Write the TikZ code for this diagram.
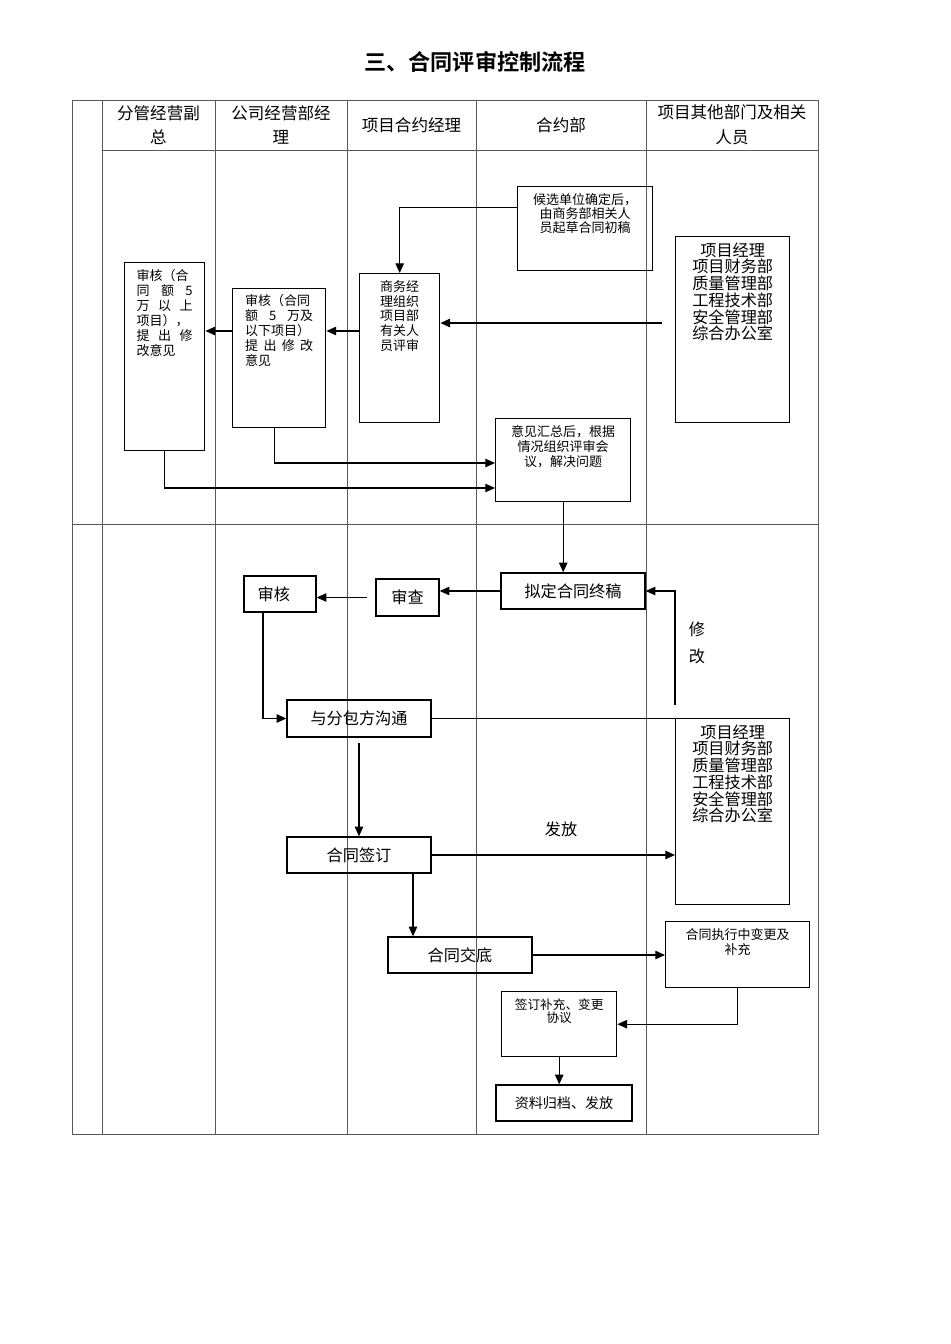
\documentclass[tikz,border=0pt]{standalone}
\usepackage{fontspec}
\setmainfont{Noto Sans CJK SC}[BoldFont={Noto Sans CJK SC Bold}]
\usepackage{tikz}
\usetikzlibrary{positioning, arrows.meta, calc}

% box with text at the top: width, height, top pad (px), text
\newcommand{\topbox}[4]{\parbox[c][\dimexpr0.02cm*#2\relax][t]{\dimexpr0.02cm*#1\relax}{\centering\vspace*{\dimexpr0.02cm*#3\relax}#4}}
\newcommand{\sfont}{\fontsize{7.4}{8.5}\selectfont}
\newcommand{\mfont}{\fontsize{9.2}{9.5}\selectfont}

\begin{document}
\begin{tikzpicture}[
        x=0.02cm, y=-0.02cm,
        >={Triangle[length=5.5pt,width=4.8pt]},
        grid/.style={draw=black!65, line width=0.5pt},
        box/.style={draw, line width=0.8pt, inner sep=0pt},
        midbox/.style={box, font=\mfont},
        conn/.style={->, line width=0.6pt},
        head/.style={font=\fontsize{9.4}{14}\selectfont, align=center}
    ]
    \useasboundingbox (0,0) rectangle (950,1344);

    % ==========================================
    % Title and table
    % ==========================================
    \node[font=\fontsize{12.6}{14}\selectfont\bfseries] (title) at (475,62) {三、合同评审控制流程};

    \draw[grid] (72,100) rectangle (818,1134);
    \draw[grid] (102,100) -- (102,1134);
    \draw[grid] (215,100) -- (215,1134);
    \draw[grid] (347,100) -- (347,1134);
    \draw[grid] (476,100) -- (476,1134);
    \draw[grid] (646,100) -- (646,1134);
    \draw[grid] (102,150) -- (818,150);
    \draw[grid] (72,524) -- (818,524);

    \node[head] (h1) at (158.5,125) {分管经营副\\总};
    \node[head] (h2) at (281,125) {公司经营部经\\理};
    \node[head] (h3) at (411.5,125) {项目合约经理};
    \node[head] (h4) at (561,125) {合约部};
    \node[head] (h5) at (732,125) {项目其他部门及相关\\人员};

    % ==========================================
    % Review stage
    % ==========================================
    \node[box, anchor=north west] (draft) at (517,186)
        {\topbox{135}{84}{7}{\fontsize{7.4}{8}\selectfont 候选单位确定后，\\由商务部相关人\\员起草合同初稿}};
    \node[box, anchor=north west] (others1) at (675,236)
        {\topbox{114}{186}{6}{\mfont 项目经理\\项目财务部\\质量管理部\\工程技术部\\安全管理部\\综合办公室}};
    \node[box, anchor=north west] (shangwu) at (359,273)
        {\topbox{80}{149}{7}{\fontsize{7.4}{8.3}\selectfont 商务经\\理组织\\项目部\\有关人\\员评审}};
    \node[box, anchor=north west] (shen2) at (232,288)
        {\topbox{93}{139}{6}{\sfont\parbox[t]{1.36cm}{\raggedright 审核（合同\\额\hfill 5\hfill 万及\\以下项目）\\提\hfill 出\hfill 修\hfill 改\\意见}}};
    \node[box, anchor=north west] (shen1) at (124,262)
        {\topbox{80}{188}{7}{\sfont\parbox[t]{1.12cm}{\raggedright 审核（合\\同\hfill 额\hfill 5\\万\hfill 以\hfill 上\\项目），\\提\hfill 出\hfill 修\\改意见}}};
    \node[box, anchor=north west] (yijian) at (495,418)
        {\topbox{135}{83}{7}{\sfont 意见汇总后，根据\\情况组织评审会\\议，解决问题}};

    \coordinate (o1) at (662,323);
    \coordinate (r1) at (0,331);
    \coordinate (r2) at (0,463);
    \coordinate (r3) at (0,488);

    \draw[conn] ([yshift=0.42cm]draft.west) -| (shangwu.north);
    \draw[conn] (o1) -- (o1 -| shangwu.east);
    \draw[conn] (shangwu.west |- r1) -- (shen2.east |- r1);
    \draw[conn] (shen2.west |- r1) -- (shen1.east |- r1);
    \draw[conn] ([xshift=-0.1cm]shen2.south) |- (yijian.west |- r2);
    \draw[conn] (shen1.south) |- (yijian.west |- r3);

    % ==========================================
    % Signing stage
    % ==========================================
    \node[midbox, minimum width=2.88cm, minimum height=0.72cm] (niding) at (573,591) {拟定合同终稿};
    \node[midbox, minimum width=1.26cm, minimum height=0.74cm] (shencha) at (407.5,597.5) {审查};
    \node[midbox, minimum width=1.44cm, minimum height=0.72cm] (shenhe) at (280,594) {\hspace*{-0.25cm}审核};
    \node[midbox, minimum width=2.88cm, minimum height=0.74cm] (goutong) at (359,718.5) {与分包方沟通};
    \node[box, anchor=north west] (others2) at (675,718)
        {\topbox{114}{186}{6}{\mfont 项目经理\\项目财务部\\质量管理部\\工程技术部\\安全管理部\\综合办公室}};
    \node[midbox, minimum width=2.88cm, minimum height=0.72cm] (qianding) at (359,855) {合同签订};
    \node[midbox, minimum width=2.88cm, minimum height=0.72cm] (jiaodi) at (460,955) {合同交底};
    \node[box, anchor=north west] (biangeng) at (665,921)
        {\topbox{144}{66}{7}{\sfont 合同执行中变更及\\补充}};
    \node[box, anchor=north west] (buchong) at (501,991)
        {\topbox{115}{65}{7}{\fontsize{7.2}{7.6}\selectfont 签订补充、变更\\协议}};
    \node[box, minimum width=2.72cm, minimum height=0.72cm, font=\fontsize{8}{9}\selectfont] (ziliao) at (564,1103) {资料归档、发放};

    \node[font=\mfont, align=center] (xiugai) at (697,643) {修\\[0.2cm]改};
    \node[font=\mfont] (fafang) at (561,829) {发放};

    \coordinate (m1) at (675,705);

    \draw[conn] (yijian.south) -- (yijian.south |- niding.north);
    \draw[conn] (niding.west) -- (niding.west -| shencha.east);
    \draw[conn] ([xshift=-0.16cm]shencha.west) -- (shenhe.east |- shencha.west);
    \draw[conn] ([xshift=-0.34cm]shenhe.south) |- (goutong.west);
    \draw[line width=0.6pt] (goutong.east) -- (goutong.east -| others2.west);
    \draw[conn] (m1) |- (niding.east);
    \draw[conn] ([yshift=-0.1cm]goutong.south) -- (qianding.north);
    \draw[conn] (qianding.east) -- (qianding.east -| others2.west);
    \draw[conn] ([xshift=1.08cm]qianding.south) -- ([xshift=1.08cm]qianding.south |- jiaodi.north);
    \draw[conn] (jiaodi.east) -- (jiaodi.east -| biangeng.west);
    \draw[conn] (biangeng.south) |- (buchong.east);
    \draw[conn] (buchong.south) -- (buchong.south |- ziliao.north);

\end{tikzpicture}
\end{document}
